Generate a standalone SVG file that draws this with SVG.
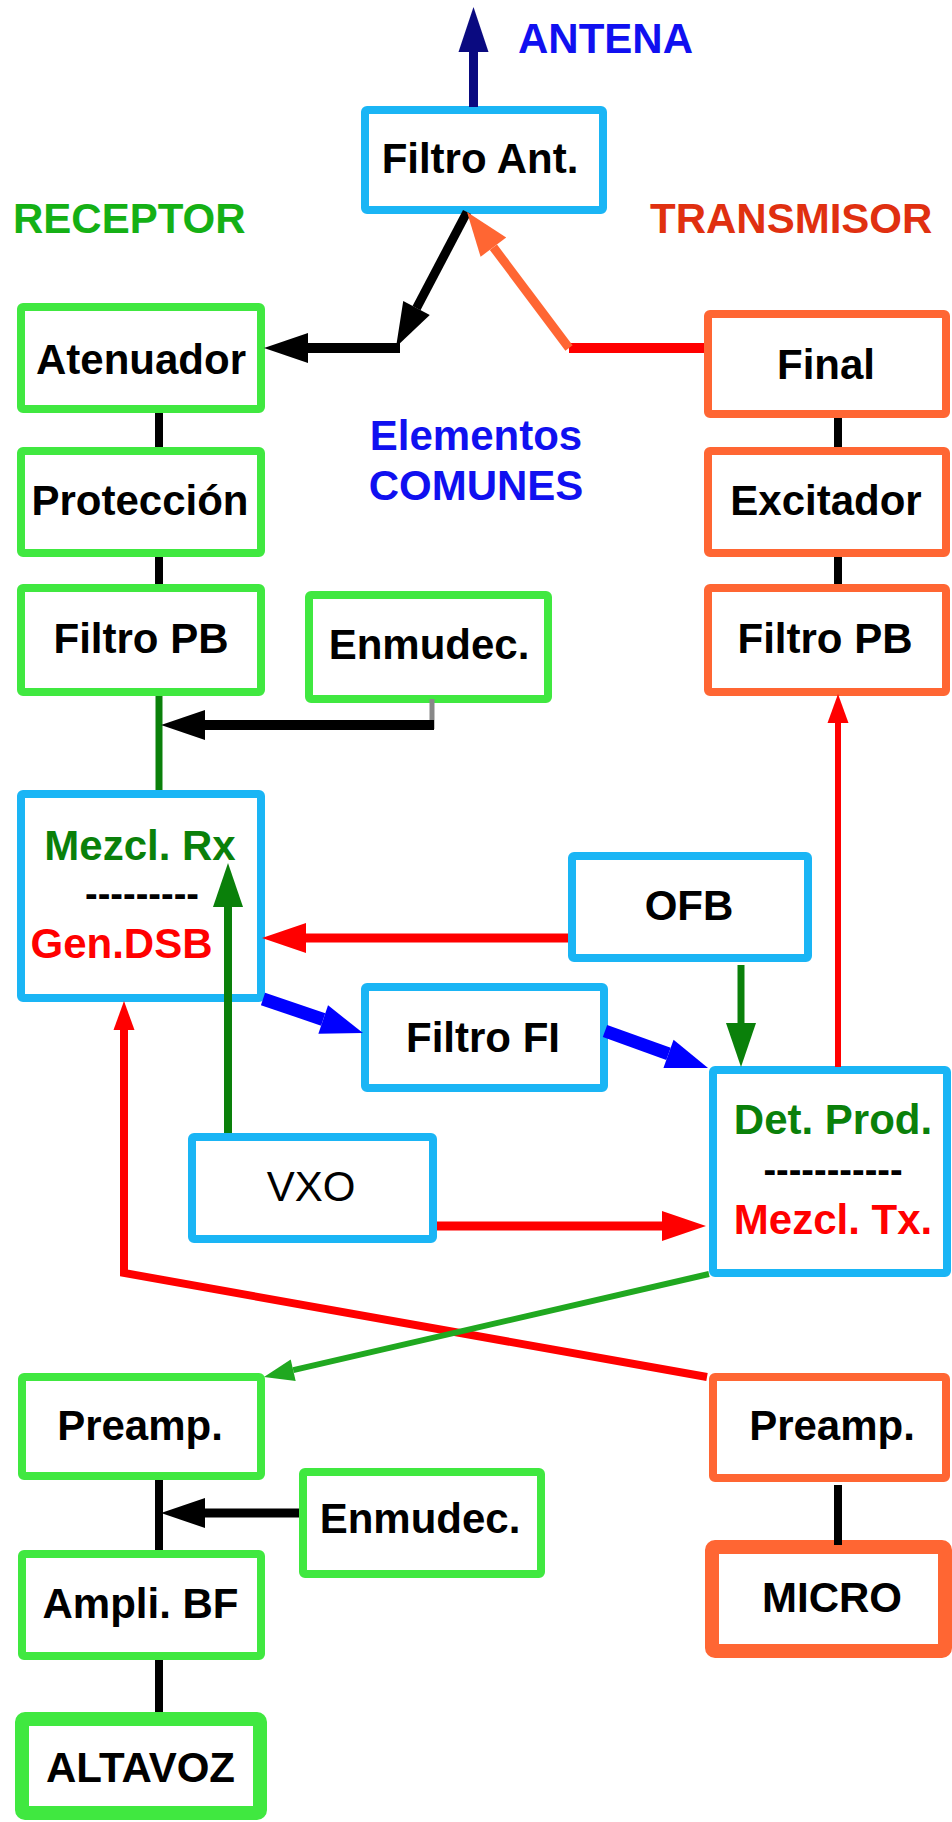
<svg xmlns="http://www.w3.org/2000/svg" width="952" height="1822" viewBox="0 0 952 1822">
<style>
.box{fill:#fff;stroke-width:8;stroke-linejoin:round}
.g{stroke:#40e840}
.o{stroke:#ff6633}
.b{stroke:#1ab5f5}
.lbl{font-family:"Liberation Sans",Arial,sans-serif;font-size:42px;font-weight:bold;text-anchor:middle;fill:#000}
.reg{font-weight:normal}
.dg{fill:#0a800a}
.rd{fill:#ff0000}
.ttl{font-family:"Liberation Sans",Arial,sans-serif;font-size:42px;font-weight:bold}
.ln{fill:none;stroke-linecap:butt}
</style>
<defs>
<marker id="m-black" markerUnits="userSpaceOnUse" markerWidth="44" markerHeight="30" refX="0" refY="15" orient="auto" overflow="visible"><path d="M0,0 L44,15 L0,30 z" fill="#000"/></marker>
<marker id="m-red" markerUnits="userSpaceOnUse" markerWidth="44" markerHeight="30" refX="0" refY="15" orient="auto" overflow="visible"><path d="M0,0 L44,15 L0,30 z" fill="#ff0000"/></marker>
<marker id="m-dgreen" markerUnits="userSpaceOnUse" markerWidth="44" markerHeight="30" refX="0" refY="15" orient="auto" overflow="visible"><path d="M0,0 L44,15 L0,30 z" fill="#0a800a"/></marker>
<marker id="m-orange" markerUnits="userSpaceOnUse" markerWidth="44" markerHeight="32" refX="0" refY="16" orient="auto" overflow="visible"><path d="M0,0 L44,16 L0,32 z" fill="#ff6633"/></marker>
<marker id="m-blue" markerUnits="userSpaceOnUse" markerWidth="42" markerHeight="30" refX="0" refY="15" orient="auto" overflow="visible"><path d="M0,0 L42,15 L0,30 z" fill="#0000ff"/></marker>
<marker id="m-navy" markerUnits="userSpaceOnUse" markerWidth="45" markerHeight="30" refX="0" refY="15" orient="auto" overflow="visible"><path d="M0,0 L45,15 L0,30 z" fill="#0a0a80"/></marker>
<marker id="m-red-s" markerUnits="userSpaceOnUse" markerWidth="29" markerHeight="21" refX="0" refY="10.5" orient="auto" overflow="visible"><path d="M0,0 L29,10.5 L0,21 z" fill="#ff0000"/></marker>
<marker id="m-lgreen-s" markerUnits="userSpaceOnUse" markerWidth="30" markerHeight="22" refX="0" refY="11" orient="auto" overflow="visible"><path d="M0,0 L30,11 L0,22 z" fill="#20a820"/></marker>
</defs>
<rect x="0" y="0" width="952" height="1822" fill="#fff"/>

<g id="titles">
<text class="ttl" x="518" y="53" fill="#1010f0">ANTENA</text>
<text class="ttl" x="13" y="233" fill="#15b015">RECEPTOR</text>
<text class="ttl" x="650" y="233" fill="#e03010">TRANSMISOR</text>
<text class="ttl" x="476" y="450" fill="#1010f0" text-anchor="middle">Elementos</text>
<text class="ttl" x="476" y="500" fill="#1010f0" text-anchor="middle">COMUNES</text>
</g>

<g id="filtro-ant"><rect class="box b" x="365" y="110" width="238" height="100" rx="2"/><text class="lbl" x="480" y="173">Filtro Ant.</text></g>
<g id="atenuador"><rect class="box g" x="21" y="307" width="240" height="102" rx="2"/><text class="lbl" x="141" y="374">Atenuador</text></g>
<g id="proteccion"><rect class="box g" x="21" y="451" width="240" height="102" rx="2"/><text class="lbl" x="140" y="515">Protección</text></g>
<g id="filtro-pb-rx"><rect class="box g" x="21" y="588" width="240" height="104" rx="2"/><text class="lbl" x="141" y="653">Filtro PB</text></g>
<g id="enmudec-1"><rect class="box g" x="309" y="595" width="239" height="104" rx="2"/><text class="lbl" x="429" y="659">Enmudec.</text></g>
<g id="final"><rect class="box o" x="708" y="314" width="238" height="100" rx="2"/><text class="lbl" x="826" y="379">Final</text></g>
<g id="excitador"><rect class="box o" x="708" y="451" width="238" height="102" rx="2"/><text class="lbl" x="826" y="515">Excitador</text></g>
<g id="filtro-pb-tx"><rect class="box o" x="708" y="588" width="238" height="104" rx="2"/><text class="lbl" x="825" y="653">Filtro PB</text></g>
<g id="mezcl-rx"><rect class="box b" x="21" y="794" width="240" height="204" rx="2"/>
<text class="lbl dg" x="140" y="860">Mezcl. Rx</text>
<text class="lbl" x="142" y="907" style="font-size:38px">---------</text>
<text class="lbl rd" x="121.5" y="958">Gen.DSB</text></g>
<g id="ofb"><rect class="box b" x="572" y="856" width="236" height="102" rx="2"/><text class="lbl" x="689" y="920">OFB</text></g>
<g id="filtro-fi"><rect class="box b" x="365" y="987" width="239" height="101" rx="2"/><text class="lbl" x="483" y="1052">Filtro FI</text></g>
<g id="vxo"><rect class="box b" x="192" y="1137" width="241" height="102" rx="2"/><text class="lbl reg" x="311" y="1201">VXO</text></g>
<g id="det-prod"><rect class="box b" x="713" y="1070" width="234" height="203" rx="2"/>
<text class="lbl dg" x="833" y="1134">Det. Prod.</text>
<text class="lbl" x="833" y="1183" style="font-size:38px">-----------</text>
<text class="lbl rd" x="833" y="1234">Mezcl. Tx.</text></g>
<g id="preamp-rx"><rect class="box g" x="22" y="1377" width="239" height="99" rx="2"/><text class="lbl" x="140" y="1440">Preamp.</text></g>
<g id="preamp-tx"><rect class="box o" x="713" y="1377" width="233" height="101" rx="2"/><text class="lbl" x="832" y="1440">Preamp.</text></g>
<g id="enmudec-2"><rect class="box g" x="303" y="1472" width="238" height="102" rx="2"/><text class="lbl" x="420" y="1533">Enmudec.</text></g>
<g id="ampli-bf"><rect class="box g" x="22" y="1554" width="239" height="102" rx="2"/><text class="lbl" x="140.5" y="1618">Ampli. BF</text></g>
<g id="altavoz"><rect class="box g" x="22" y="1719" width="238" height="94" rx="3" style="stroke-width:14"/><text class="lbl" x="140.5" y="1782">ALTAVOZ</text></g>
<g id="micro"><rect class="box o" x="712" y="1547" width="233" height="104" rx="3" style="stroke-width:14"/><text class="lbl" x="832" y="1612">MICRO</text></g>

<g id="connectors">
<line class="ln" x1="473.5" y1="107" x2="473.5" y2="52" stroke="#0a0a80" stroke-width="9" marker-end="url(#m-navy)"/>
<line class="ln" x1="467" y1="212" x2="416.5" y2="308.1" stroke="#000" stroke-width="9" marker-end="url(#m-black)"/>
<line class="ln" x1="400" y1="348" x2="308" y2="348" stroke="#000" stroke-width="10" marker-end="url(#m-black)"/>
<line class="ln" x1="569" y1="348" x2="704" y2="348" stroke="#ff0000" stroke-width="10"/>
<line class="ln" x1="569" y1="348" x2="493.4" y2="247.2" stroke="#ff6633" stroke-width="9" marker-end="url(#m-orange)"/>
<line class="ln" x1="159" y1="413" x2="159" y2="447" stroke="#000" stroke-width="8"/>
<line class="ln" x1="159" y1="557" x2="159" y2="584" stroke="#000" stroke-width="8"/>
<line class="ln" x1="838" y1="418" x2="838" y2="447" stroke="#000" stroke-width="8"/>
<line class="ln" x1="838" y1="557" x2="838" y2="584" stroke="#000" stroke-width="8"/>
<line class="ln" x1="159" y1="696" x2="159" y2="790" stroke="#0a800a" stroke-width="7"/>
<line class="ln" x1="432" y1="699" x2="432" y2="729" stroke="#888" stroke-width="5"/>
<line class="ln" x1="434" y1="725" x2="205" y2="725" stroke="#000" stroke-width="10" marker-end="url(#m-black)"/>
<line class="ln" x1="568" y1="938" x2="306" y2="938" stroke="#ff0000" stroke-width="9" marker-end="url(#m-red)"/>
<line class="ln" x1="741" y1="965" x2="741" y2="1023" stroke="#0a800a" stroke-width="7" marker-end="url(#m-dgreen)"/>
<line class="ln" x1="838" y1="1067" x2="838" y2="723" stroke="#ff0000" stroke-width="6" marker-end="url(#m-red-s)"/>
<line class="ln" x1="263" y1="999" x2="323.2" y2="1019.5" stroke="#0000ff" stroke-width="13" marker-end="url(#m-blue)"/>
<line class="ln" x1="605" y1="1031" x2="668.5" y2="1053.8" stroke="#0000ff" stroke-width="13" marker-end="url(#m-blue)"/>
<line class="ln" x1="228" y1="1133" x2="228" y2="907" stroke="#0a800a" stroke-width="8" marker-end="url(#m-dgreen)"/>
<line class="ln" x1="437" y1="1226" x2="662" y2="1226" stroke="#ff0000" stroke-width="9" marker-end="url(#m-red)"/>
<polyline class="ln" points="707,1377 124,1273 124,1030" stroke="#ff0000" stroke-width="8" stroke-linejoin="miter" marker-end="url(#m-red-s)"/>
<line class="ln" x1="709" y1="1274" x2="293.2" y2="1370.2" stroke="#20a820" stroke-width="6" marker-end="url(#m-lgreen-s)"/>
<line class="ln" x1="159" y1="1480" x2="159" y2="1550" stroke="#000" stroke-width="8"/>
<line class="ln" x1="299" y1="1513" x2="205" y2="1513" stroke="#000" stroke-width="9" marker-end="url(#m-black)"/>
<line class="ln" x1="159" y1="1660" x2="159" y2="1712" stroke="#000" stroke-width="8"/>
<line class="ln" x1="838" y1="1485" x2="838" y2="1545" stroke="#000" stroke-width="8"/>
</g>
</svg>
